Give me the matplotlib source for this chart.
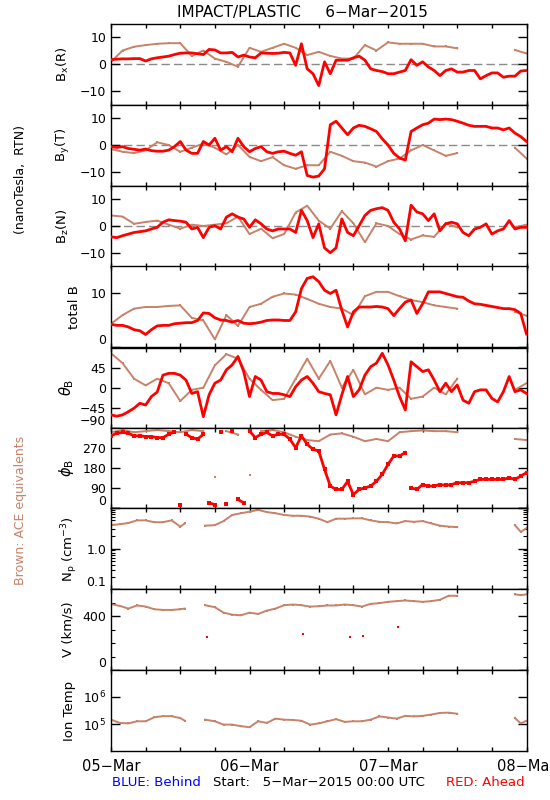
import numpy as np
import matplotlib
matplotlib.use('Agg')
import matplotlib.pyplot as plt
from matplotlib.ticker import FixedLocator, NullFormatter, FixedFormatter

plt.rcParams['font.family'] = ['DejaVu Sans']

RED = '#ff0000'
BROWN = '#c8826a'
nan = float('nan')

# ---------------- data (hours since 05-Mar-2015 00:00 UTC) ----------------
red_hours = [0, 1, 2, 3, 4, 5, 6, 7, 8, 9, 10, 11, 12, 13, 14, 15, 16, 17, 18, 19,
             20, 21, 22, 23, 24, 25, 26, 27, 28, 29, 30, 31, 32, 33, 34, 35, 36, 37, 38, 39,
             40, 41, 42, 43, 44, 45, 46, 47, 48, 49, 50, 51, 52, 53, 54, 55, 56, 57, 58, 59,
             60, 61, 62, 63, 64, 65, 66, 67, 68, 69, 70, 71, 72]

bx_red = [1.6, 1.8, 1.9, 1.9, 2.0, 2.0, 1.1, 1.9, 2.3, 2.6,
          2.9, 3.5, 4.0, 4.1, 4.1, 3.8, 3.5, 5.4, 5.2, 4.1,
          4.1, 4.3, 2.6, 3.3, 2.6, 2.3, 4.1, 4.0, 3.9, 4.0,
          4.3, 4.1, -0.5, 7.5, -1.8, -3.6, -8.0, 0.8, -3.6, 1.4,
          1.4, 1.4, 2.3, 2.9, 1.4, -1.8, -2.4, -2.8, -3.6, -3.6,
          -3.0, -2.4, 1.6, -0.5, 0.8, -1.1, -2.4, -4.3, -2.4, -1.8,
          -3.0, -3.0, -2.4, -2.4, -5.5, -4.3, -3.3, -3.3, -4.9, -4.5,
          -4.5, -2.6, -2.4]

by_red = [-0.6, -0.9, -0.6, -1.3, -1.6, -1.9, -1.5, -2.1, -2.3, -2.3,
          -1.9, -0.6, 1.3, -1.9, -3.1, -3.1, 1.3, 0.0, 2.5, -1.9,
          -0.6, -2.5, 2.5, -0.6, -2.5, -1.3, -0.6, -2.5, -3.1, -2.5,
          -2.3, -3.1, -3.8, -2.5, -11.3, -11.9, -11.5, -8.8, 7.5, 8.8,
          6.3, 3.8, 6.3, 7.3, 6.9, 6.0, 5.0, 2.3, 0.0, -3.1,
          -4.8, -5.6, 5.0, 6.3, 7.5, 8.1, 9.6, 9.4, 9.6, 9.4,
          8.8, 8.1, 7.3, 6.9, 6.9, 6.9, 6.3, 6.3, 5.6, 6.3,
          4.4, 3.1, 1.3]

bz_red = [-4.0, -4.3, -3.6, -3.0, -2.4, -2.1, -1.8, -1.1, -0.5, 1.4,
          2.3, 2.0, 1.8, 1.4, -1.1, -0.5, -4.3, -0.5, 0.1, -1.1,
          3.3, 4.5, 3.3, 2.6, -0.5, 2.3, 0.8, -1.1, -1.8, -1.1,
          -1.1, -1.1, -2.4, 5.8, 2.0, -4.3, 0.8, -8.1, -9.9, -8.1,
          2.6, -2.4, -3.6, 0.1, 3.9, 5.8, 6.4, 6.8, 5.8, 1.4,
          -1.1, -5.5, 7.7, 5.2, 4.5, 2.0, 4.5, -1.8, 0.8, 1.4,
          0.8, -2.4, -3.6, -1.1, -0.5, 0.8, -3.0, -1.8, -1.1, 2.0,
          -1.1, -0.5, -0.5]

bt_red = [4.3, 4.1, 4.1, 3.8, 3.3, 3.1, 2.4, 3.3, 4.0, 4.1,
          4.1, 4.4, 4.5, 4.6, 4.6, 5.0, 6.4, 6.3, 5.5, 5.1,
          5.0, 4.7, 5.0, 4.5, 4.4, 4.5, 4.7, 5.0, 5.1, 5.1,
          5.0, 5.0, 6.6, 10.9, 12.8, 13.1, 12.2, 10.6, 10.0, 10.6,
          6.9, 3.8, 6.6, 7.5, 7.5, 7.5, 7.6, 7.5, 7.2, 5.9,
          7.2, 8.4, 8.8, 6.3, 8.1, 10.3, 10.3, 10.3, 10.0, 9.7,
          9.4, 9.3, 8.6, 8.1, 8.0, 7.8, 7.6, 7.4, 7.2, 7.2,
          7.0, 6.3, 2.5]

theta_red = [-61, -64, -61, -54, -46, -35, -39, -20, -10, 28,
             32, 32, 28, 17, -13, -9, -65, -16, 10, 17,
             40, 51, 70, 36, -20, 25, 17, -9, -13, -13,
             -16, -20, 2, 17, 25, 10, -9, -13, -16, -61,
             -16, 25, -20, -5, 28, 47, 55, 77, 51, 17,
             -20, -50, 58, 47, 36, 40, 17, -9, 10, -9,
             6, -28, -35, -9, -5, -5, -24, -32, -9, 25,
             -9, -5, -13]

phi_red = [324, 336, 339, 336, 324, 324, 321, 321, 316, 316,
           331, 342, 15, 331, 316, 309, 331, 24, 16, 339,
           20, 346, 39, 24, 346, 316, 331, 339, 324, 331,
           331, 309, 271, 324, 286, 264, 256, 174, 99, 84,
           84, 120, 61, 84, 91, 99, 121, 151, 196, 234,
           234, 249, 91, 84, 106, 99, 99, 106, 102, 106,
           114, 114, 114, 121, 129, 129, 129, 129, 129, 136,
           129, 144, 159]

v_red_hours = [16.6, 33.3, 41.5, 43.6, 49.8]
v_red = [242, 270, 243, 250, 318]

# ACE (brown) magnetic field, NaN = data gap
brown_mag_hours = [0, 2, 4, 6, 8, 10, 12, 14, 16, 18, 20, 22, 24, 26, 28, 30,
                   32, 34, 36, 38, 40, 42, 44, 46, 48, 50, 52, 54, 56, 58, 60,
                   65, 70, 72]
bx_brown = [0.8, 5.0, 6.4, 7.0, 7.5, 7.7, 7.7, 3.0, 5.0, 2.0, 0.8, -1.0, 6.0, 4.5, 6.0, 7.5,
            6.0, 3.3, 4.5, 3.0, 2.0, 2.0, 7.0, 5.0, 8.0, 7.5, 7.5, 7.5, 6.5, 6.5, 5.8,
            nan, 5.2, 3.9]
by_brown = [-1.5, -2.5, -3.0, -2.0, 1.0, 0.0, -2.5, -1.0, 0.5, -1.0, -3.5, 0.0, -4.4, -6.0, -4.5, -7.5,
            -8.8, -7.5, -7.5, -2.5, -4.0, -6.0, -6.5, -8.0, -6.0, -5.0, -2.0, 0.0, -2.0, -4.0, -3.0,
            nan, -1.0, -5.0]
bz_brown = [3.9, 3.5, 0.8, 1.5, 2.0, 0.5, -1.0, 0.5, 0.0, 0.5, 1.0, 3.5, -3.0, -1.0, -4.5, -3.0,
            5.0, 7.5, 2.0, -1.0, 5.5, 1.0, -6.0, 1.0, 0.0, -3.0, -5.0, -3.5, -4.0, 1.0, -0.5,
            nan, -0.5, 0.5]
bt_brown = [4.4, 6.0, 7.2, 7.5, 7.5, 7.7, 7.8, 5.5, 5.0, 1.5, 6.0, 4.0, 7.5, 8.1, 9.4, 10.0,
            9.8, 9.0, 8.1, 7.5, 7.2, 6.0, 9.5, 10.3, 10.3, 9.5, 8.8, 8.4, 7.8, 7.5, 7.2,
            nan, 6.6, 5.9]
theta_brown = [77, 55, 20, 5, 20, 10, -30, -5, 0, 50, 75, 65, 20, -5, -28, -25,
               20, 65, 20, 60, 0, 40, -15, 0, -5, 0, -25, -20, 0, -15, 20,
               nan, -5, 10]
phi_brown = [340, 350, 340, 345, 350, 345, 340, 350, 345, 140, 345, 330, 150, 345, 350, 340,
             320, 305, 300, 330, 335, 320, 300, 310, 300, 340, 345, 348, 345, 345, 340,
             nan, 310, 305]

# ACE (brown) plasma
plasma_hours = [0, 1.5, 3, 4.5, 6, 7.5, 9, 10.5, 12, 12.8, 14.5, 16.3,
                18, 19.5, 21, 22.5, 24, 25.5, 27, 28.5, 30, 31.5, 33, 34.5, 36, 37.5, 39,
                40.5, 42, 43.5, 45, 46.5, 48, 49.5, 51, 52.5, 54, 55.5, 57, 58.5, 60,
                65, 70, 71, 72]
np_brown = [3.8, 4.0, 4.3, 5.0, 5.0, 4.5, 4.5, 5.0, 3.5, 4.2, nan, 3.7,
            3.8, 4.8, 6.8, 7.5, 8.2, 9.1, 8.0, 7.5, 6.8, 6.5, 6.5, 6.2, 5.5, 4.5, 5.5,
            5.5, 5.6, 5.6, 5.0, 4.6, 4.5, 4.2, 4.8, 4.6, 4.8, 4.2, 3.7, 3.5, 3.4,
            nan, 3.8, 2.6, 3.2]
v_brown = [488, 475, 455, 478, 470, 450, 445, 445, 450, 455, nan, 480,
           465, 425, 410, 405, 425, 415, 440, 455, 480, 485, 480, 470, 472, 478, 478,
           485, 480, 470, 490, 495, 505, 510, 515, 510, 505, 510, 520, 550, 550,
           nan, 560, 555, 560]
t_brown = [1.45e5, 1.10e5, 1.05e5, 1.26e5, 1.26e5, 1.78e5, 1.95e5, 1.95e5, 1.66e5, 1.32e5, nan, 1.45e5,
           1.26e5, 0.95e5, 0.95e5, 0.83e5, 0.76e5, 1.26e5, 1.10e5, 1.58e5, 1.45e5, 1.41e5, 1.32e5,
           0.95e5, 1.05e5, 1.26e5, 1.51e5, 1.20e5, 1.26e5, 1.26e5, 1.45e5, 1.91e5, 1.74e5, 1.58e5,
           2.00e5, 1.91e5, 2.00e5, 2.24e5, 2.57e5, 2.63e5, 2.40e5,
           nan, 1.66e5, 1.05e5, 1.32e5]

day_labels = ['05\u2212Mar', '06\u2212Mar', '07\u2212Mar', '08\u2212Mar']

# ---------------- layout ----------------
W, H = 550, 800
fig = plt.figure(figsize=(W / 100, H / 100), dpi=100)
edges = [23.5, 104.5, 185.5, 266.5, 347.5, 427.8, 508.2, 589.0, 670.0, 751.0]
L, R = 111.0, 526.5


def make_ax(i):
    top, bot = edges[i], edges[i + 1]
    ax = fig.add_axes([L / W, 1 - bot / H, (R - L) / W, (bot - top) / H])
    ax.set_xlim(0, 72)
    ax.xaxis.set_major_locator(FixedLocator([0, 24, 48, 72]))
    ax.xaxis.set_minor_locator(FixedLocator([6, 12, 18, 30, 36, 42, 54, 60, 66]))
    ax.tick_params(axis='x', which='both', direction='in', top=True, bottom=True,
                   length=3.0, width=1.0, labelbottom=False)
    ax.tick_params(axis='y', which='major', direction='in', left=True, right=True,
                   length=6.5, width=1.0, labelsize=9, pad=3.5)
    ax.tick_params(axis='y', which='minor', direction='in', left=True, right=True,
                   length=3.0, width=0.8)
    for s in ax.spines.values():
        s.set_linewidth(1.0)
    return ax


def wrap_break(t, y):
    t = np.asarray(t, float)
    y = np.asarray(y, float)
    tt, yy = [t[0]], [y[0]]
    for k in range(1, len(t)):
        if abs(y[k] - y[k - 1]) > 150:
            tt.append(np.nan)
            yy.append(np.nan)
        tt.append(t[k])
        yy.append(y[k])
    return tt, yy


def draw_brown(ax, t, y, wrap=False):
    if wrap:
        t, y = wrap_break(t, y)
    ax.plot(t, y, color=BROWN, lw=1.4, marker='s', ms=1.8, mew=0, zorder=2)


def draw_red(ax, t, y, wrap=False):
    if wrap:
        t, y = wrap_break(t, y)
        ax.plot(t, y, color=RED, lw=2.0, marker='s', ms=2.4, mew=0, zorder=3)
    else:
        ax.plot(t, y, color=RED, lw=2.0, zorder=3)


def ylab(ax_i, text, xpx, size=9.5):
    yc = (edges[ax_i] + edges[ax_i + 1]) / 2
    fig.text(xpx / W, 1 - yc / H, text, rotation=90, ha='center', va='center', fontsize=size)


def bottom_label_up(ax):
    labs = ax.get_yticklabels()
    if labs:
        labs[0].set_va('bottom')


mns = '\u2212'

# B components
comp = [(bx_red, bx_brown, r'B$_{\rm x}$(R)'),
        (by_red, by_brown, r'B$_{\rm y}$(T)'),
        (bz_red, bz_brown, r'B$_{\rm z}$(N)')]
for i, (rv, bv, lab) in enumerate(comp):
    ax = make_ax(i)
    ax.set_ylim(-15, 15)
    ax.set_yticks([-10, 0, 10])
    ax.set_yticklabels([mns + '10', '0', '10'])
    ax.axhline(0, color='#8a8a8a', lw=1.0, dashes=(6, 3), zorder=1)
    draw_brown(ax, brown_mag_hours, bv)
    draw_red(ax, red_hours, rv)
    ylab(i, lab, 63)

# total B
ax = make_ax(3)
ax.set_ylim(0, 15)
ax.set_yticks([0, 10])
ax.set_yticklabels(['0', '10'])
bottom_label_up(ax)
draw_brown(ax, brown_mag_hours, bt_brown)
draw_red(ax, red_hours, bt_red)
ylab(3, 'total B', 74)

# theta
ax = make_ax(4)
ax.set_ylim(-90, 90)
ax.set_yticks([-90, -45, 0, 45])
ax.set_yticklabels([mns + '90', mns + '45', '0', '45'])
bottom_label_up(ax)
draw_brown(ax, brown_mag_hours, theta_brown)
draw_red(ax, red_hours, theta_red)
ylab(4, r'$\theta_{\rm B}$', 67, 10.5)

# phi
ax = make_ax(5)
ax.set_ylim(0, 360)
ax.set_yticks([0, 90, 180, 270])
ax.set_yticklabels(['0', '90', '180', '270'])
bottom_label_up(ax)
draw_brown(ax, brown_mag_hours, phi_brown, wrap=True)
draw_red(ax, red_hours, phi_red, wrap=True)
ylab(5, r'$\phi_{\rm B}$', 67, 10.5)

# Np
ax = make_ax(6)
ax.set_yscale('log')
ax.set_ylim(0.1, 10)
ax.yaxis.set_major_locator(FixedLocator([0.1, 1.0, 10.0]))
ax.yaxis.set_major_formatter(FixedFormatter(['0.1', '1.0', '']))
ax.yaxis.set_minor_locator(FixedLocator([m * d for d in (0.1, 1.0) for m in range(2, 10)]))
ax.yaxis.set_minor_formatter(NullFormatter())
ax.tick_params(axis='y', which='major', direction='in', left=True, right=True,
               length=6.5, width=1.0, labelsize=9, pad=3.5)
bottom_label_up(ax)
draw_brown(ax, plasma_hours, np_brown)
ylab(6, r'N$_{\rm p}$ (cm$^{-3}$)', 70)

# V
ax = make_ax(7)
ax.set_ylim(0, 600)
ax.set_yticks([0, 400])
ax.set_yticklabels(['0', '400'])
ax.yaxis.set_minor_locator(FixedLocator([100, 200, 300, 500]))
bottom_label_up(ax)
draw_brown(ax, plasma_hours, v_brown)
ax.plot(v_red_hours, v_red, ls='none', marker='s', ms=1.6, mew=0, color=RED, zorder=3)
ylab(7, 'V (km/s)', 68)

# Ion temperature
ax = make_ax(8)
ax.set_yscale('log')
ax.set_ylim(1e4, 1e7)
ax.yaxis.set_major_locator(FixedLocator([1e5, 1e6]))
ax.yaxis.set_major_formatter(FixedFormatter([r'10$^{5}$', r'10$^{6}$']))
ax.yaxis.set_minor_locator(FixedLocator([]))
ax.tick_params(axis='y', which='major', direction='in', left=True, right=True,
               length=6.5, width=1.0, labelsize=9, pad=3.5)
draw_brown(ax, plasma_hours, t_brown)
ylab(8, 'Ion Temp', 69)
ax.tick_params(axis='x', which='major', labelbottom=True, labelsize=10.5, pad=6)
ax.set_xticklabels(day_labels)

# texts
fig.text(177 / W, 1 - 12 / H, 'IMPACT/PLASTIC     6\u2212Mar\u22122015', ha='left', va='center', fontsize=11)
fig.text(21 / W, 1 - 180 / H, '(nanoTesla,  RTN)', rotation=90, ha='center', va='center', fontsize=9)
fig.text(21 / W, 1 - 510 / H, 'Brown: ACE equivalents', rotation=90, ha='center', va='center',
         fontsize=9, color=BROWN)
fig.text(112 / W, 1 - 783 / H, 'BLUE: Behind', ha='left', va='center', fontsize=9.5, color='#0000ff')
fig.text(213 / W, 1 - 783 / H, 'Start:   5\u2212Mar\u22122015 00:00 UTC', ha='left', va='center', fontsize=9.5)
fig.text(525 / W, 1 - 783 / H, 'RED: Ahead', ha='right', va='center', fontsize=9.5, color=RED)

fig.savefig('out.png', dpi=100)
